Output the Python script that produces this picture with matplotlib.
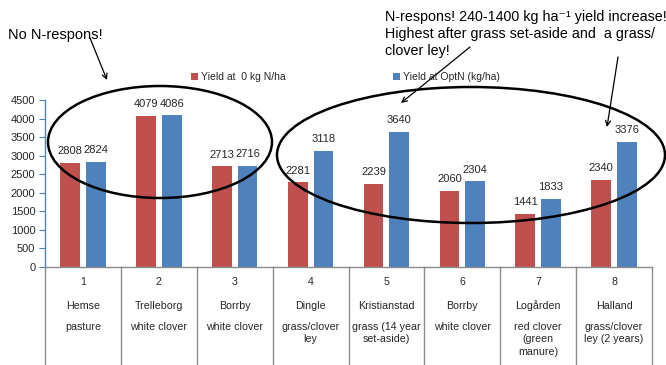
import matplotlib
matplotlib.use("Agg")
import matplotlib.pyplot as plt
import numpy as np
from matplotlib.patches import Ellipse, FancyArrowPatch
import matplotlib.transforms as mtransforms

plt.rcParams['font.family'] = ['Liberation Sans', 'DejaVu Sans']

# ---- data ----
trial_no = ["1", "2", "3", "4", "5", "6", "7", "8"]
sites = ["Hemse", "Trelleborg", "Borrby", "Dingle", "Kristianstad", "Borrby", "Logården", "Halland"]
crops = ["pasture", "white clover", "white clover", "grass/clover\nley",
         "grass (14 year\nset-aside)", "white clover", "red clover\n(green\nmanure)",
         "grass/clover\nley (2 years)"]
yield_0N = [2808, 4079, 2713, 2281, 2239, 2060, 1441, 2340]
yield_optN = [2824, 4086, 2716, 3118, 3640, 2304, 1833, 3376]
series_names = ["Yield at  0 kg N/ha", "Yield at OptN (kg/ha)"]

RED = "#C0504D"
BLUE = "#4F81BD"
TXT = "#262626"
GRID = "#8C8C8C"

W, H = 666, 365
fig = plt.figure(figsize=(W / 100, H / 100), dpi=100)

def fx(px):
    return px / W

def fy(py):
    return 1 - py / H

ax = fig.add_axes([fx(45), fy(267), fx(652) - fx(45), fy(100) - fy(267)])

x = np.arange(len(sites))
bw = 0.26
off = 0.17
b1 = ax.bar(x - off, yield_0N, bw, color=RED, label=series_names[0])
b2 = ax.bar(x + off, yield_optN, bw, color=BLUE, label=series_names[1])

for xi, v in zip(x - off, yield_0N):
    ax.annotate(str(v), (xi, v), xytext=(0, 8.5), textcoords='offset points',
                ha='center', va='center', fontsize=8, color=TXT)
for xi, v in zip(x + off, yield_optN):
    ax.annotate(str(v), (xi, v), xytext=(0, 8.5), textcoords='offset points',
                ha='center', va='center', fontsize=8, color=TXT)

ax.set_xlim(-0.5, len(sites) - 0.5)
ax.set_ylim(0, 4500)
ax.set_yticks(np.arange(0, 4501, 500))
ax.tick_params(axis='y', direction='out', length=4, color=BLUE, labelsize=8, labelcolor=TXT, pad=3)
ax.set_xticks([])
for s in ['top', 'right']:
    ax.spines[s].set_visible(False)
ax.spines['left'].set_color(BLUE)
ax.spines['bottom'].set_color(GRID)
ax.spines['left'].set_linewidth(1.0)
ax.spines['bottom'].set_linewidth(1.0)

# table under axis
trans = mtransforms.blended_transform_factory(ax.transData, ax.transAxes)
ax_h = 167.0
for b in np.arange(-0.5, len(sites), 1.0):
    ax.plot([b, b], [0, -110 / ax_h], transform=trans, color=GRID, lw=1.0, clip_on=False)
for xi, n, s, c in zip(x, trial_no, sites, crops):
    ax.text(xi, -15 / ax_h, n, transform=trans, ha='center', va='center', fontsize=7.7, color=TXT)
    ax.text(xi, -39 / ax_h, s, transform=trans, ha='center', va='center', fontsize=7.7, color=TXT)
    ax.text(xi, -55 / ax_h, c, transform=trans, ha='center', va='top', fontsize=7.7, color=TXT,
            linespacing=1.3)

# legend
leg = fig.legend(handles=[b1, b2], labels=series_names, loc='center left',
                 bbox_to_anchor=(fx(191), fy(77)), ncol=2, frameon=False, fontsize=7.5,
                 handlelength=0.7, handleheight=0.7, handletextpad=0.25, columnspacing=10.3,
                 borderaxespad=0, borderpad=0)
for t in leg.get_texts():
    t.set_color(TXT)

# ellipses
e1 = Ellipse((fx(160), fy(142)), fx(224), 112 / H, transform=fig.transFigure,
             fill=False, edgecolor='black', lw=1.8)
e2 = Ellipse((fx(471), fy(155)), fx(388), 136 / H, transform=fig.transFigure,
             fill=False, edgecolor='black', lw=1.8)
fig.add_artist(e1)
fig.add_artist(e2)

# annotation texts
FS = 10.3
fig.text(fx(8), fy(35), "No N-respons!", ha='left', va='center', fontsize=10.5, color='black')
fig.text(fx(385), fy(17), "N-respons! 240-1400 kg ha\u207b\u00b9 yield increase!", ha='left', va='center',
         fontsize=FS, color='black')
fig.text(fx(385), fy(34), "Highest after grass set-aside and  a grass/", ha='left', va='center',
         fontsize=FS, color='black')
fig.text(fx(385), fy(51), "clover ley!", ha='left', va='center', fontsize=FS, color='black')

def arrow(p0, p1):
    a = FancyArrowPatch((fx(p0[0]), fy(p0[1])), (fx(p1[0]), fy(p1[1])), transform=fig.transFigure,
                        arrowstyle='->', mutation_scale=9, lw=0.9, color='black',
                        shrinkA=0, shrinkB=0)
    fig.add_artist(a)

arrow((90, 38), (107, 80))
arrow((470, 47), (401, 103))
arrow((618, 57), (607, 127))

fig.savefig("out.png", dpi=100)
